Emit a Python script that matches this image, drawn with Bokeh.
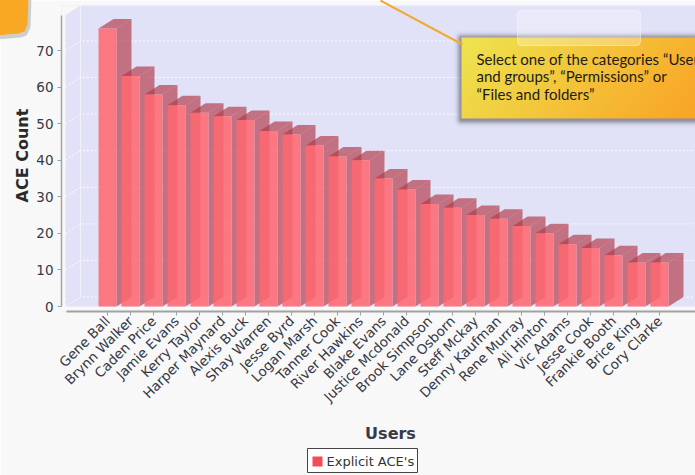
import numpy as np
from math import pi

from bokeh.plotting import figure
from bokeh.models import Range1d, FixedTicker, Label, BoxAnnotation
from bokeh.core.properties import value
from bokeh.embed import file_html
from bokeh.resources import INLINE

# ---------------------------------------------------------------- data
users = ["Gene Ball", "Brynn Walker", "Caden Price", "Jamie Evans", "Kerry Taylor",
         "Harper Maynard", "Alexis Buck", "Shay Warren", "Jesse Byrd", "Logan Marsh",
         "Tanner Cook", "River Hawkins", "Blake Evans", "Justice Mcdonald",
         "Brook Simpson", "Lane Osborn", "Steff Mckay", "Denny Kaufman",
         "Rene Murray", "Ali Hinton", "Vic Adams", "Jesse Cook", "Frankie Booth",
         "Brice King", "Cory Clarke"]
explicit_aces = [76, 63, 58, 55, 53, 52, 51, 48, 47, 44, 41, 40, 35, 32, 28, 27,
                 25, 24, 22, 20, 17, 16, 14, 12, 12]
y_ticks = [0, 10, 20, 30, 40, 50, 60, 70]
series_name = "Explicit ACE's"
x_title = "Users"
y_title = "ACE Count"
hint_lines = ["Select one of the categories \u201cUsers",
              "and groups\u201d, \u201cPermissions\u201d or",
              "\u201cFiles and folders\u201d"]

# ---------------------------------------------------------------- layout
W, H = 695, 475
FRAME_L, FRAME_R, FRAME_T, FRAME_B = 61, 695, 5, 311
X0_PX, X_STEP = 107.0, 23.0          # pixel of first category, pixels per category
Y0_PX, Y_UNIT = 306.0, 3.657         # pixel of value 0, pixels per unit


def px2x(px):
    return (px - X0_PX) / X_STEP


def py2y(py):
    return (Y0_PX - py) / Y_UNIT


BG = "#f8f8f8"
WALL = "#e1e1f7"
TEXT = "#363846"
FONT = "DejaVu Sans"
FRONT_COLOR = "#ff6670"

# 3D depth offsets (data units)
DX = 15.0 / X_STEP
DY = 9.5 / Y_UNIT
HALF = 0.39

p = figure(width=W, height=H, output_backend="svg", toolbar_location=None,
           x_range=Range1d(px2x(FRAME_L), px2x(FRAME_R)),
           y_range=Range1d(py2y(FRAME_B), py2y(FRAME_T)),
           min_border_left=FRAME_L, min_border_right=W - FRAME_R,
           min_border_top=FRAME_T, min_border_bottom=H - FRAME_B)
p.background_fill_color = WALL
p.border_fill_color = BG
p.outline_line_color = None
p.xgrid.visible = False
p.ygrid.visible = False

# ---------------------------------------------------------------- box walls
x_left = px2x(65)
p.add_layout(BoxAnnotation(right=x_left, fill_color=BG, fill_alpha=1,
                           line_color=None, level="underlay"))
p.add_layout(BoxAnnotation(top=0, fill_color=BG, fill_alpha=1,
                           line_color=None, level="underlay"))
y_top = p.y_range.end
p.patch([x_left, x_left + DX, x_left], [y_top, y_top, y_top - DY],
        fill_color=BG, line_color=None)
p.segment(x0=[x_left + DX], y0=[DY], x1=[x_left + DX], y1=[y_top],
          line_color="white", line_alpha=0.55, line_width=1)

# dashed grid on the back wall with the slanted part on the side wall
grid_xs = [[x_left, x_left + DX, p.x_range.end] for _ in y_ticks]
grid_ys = [[v, v + DY, v + DY] for v in y_ticks]
p.multi_line(grid_xs, grid_ys, line_color="white", line_width=1,
             line_dash="2 2", line_alpha=0.95)

# ---------------------------------------------------------------- 3D bars
idx = np.arange(len(users), dtype=float)
vals = np.array(explicit_aces, dtype=float)

side_xs, side_ys = [], []
for i, v in zip(idx, vals):
    r = i + HALF
    l = i - HALF
    side_xs.append([r, r + DX, r + DX, r])
    side_ys.append([0, DY, v + DY, v])
    side_xs.append([l, r, r + DX, l + DX])
    side_ys.append([v, v, v + DY, v + DY])
p.patches(side_xs, side_ys, fill_color="#b23c48", fill_alpha=0.68,
          line_color=None)

p.quad(left=idx - HALF, right=idx + HALF, bottom=0, top=vals,
       fill_color=FRONT_COLOR, fill_alpha=0.86, line_color=None)

# ---------------------------------------------------------------- axes
yax = p.yaxis[0]
yax.ticker = FixedTicker(ticks=y_ticks)
yax.bounds = (0, py2y(15))
yax.axis_line_color = "#a2a2a2"
yax.axis_line_width = 1.5
yax.major_tick_line_color = "#a2a2a2"
yax.major_tick_out = 4
yax.major_tick_in = 0
yax.minor_tick_line_color = None
yax.major_label_text_font = FONT
yax.major_label_text_font_size = "13.5px"
yax.major_label_text_color = TEXT
yax.major_label_standoff = 4

xax = p.xaxis[0]
xax.ticker = FixedTicker(ticks=list(range(len(users))))
xax.major_label_overrides = {i: name for i, name in enumerate(users)}
xax.major_label_orientation = pi / 4
xax.bounds = (px2x(66), p.x_range.end)
xax.axis_line_color = "#a2a2a2"
xax.axis_line_width = 2
xax.major_tick_line_color = "#a2a2a2"
xax.major_tick_out = 4
xax.major_tick_in = 0
xax.minor_tick_line_color = None
xax.major_label_text_font = FONT
xax.major_label_text_font_size = "13.5px"
xax.major_label_text_color = TEXT
xax.major_label_standoff = 3

# axis titles drawn on the overlay level so they can sit in the margins
p.text(x=[px2x(390)], y=[py2y(433)], text=[x_title], text_align="center",
       text_baseline="middle", text_font=value(FONT), text_font_size="16px",
       text_font_style="bold", text_color="#363a48", level="overlay")
p.text(x=[px2x(22)], y=[py2y(155)], text=[y_title], angle=pi / 2,
       text_align="center", text_baseline="middle", text_font=value(FONT),
       text_font_size="16px", text_font_style="bold", text_color="#2a2a2a",
       level="overlay")

# ---------------------------------------------------------------- legend box
p.quad(left=[px2x(307)], right=[px2x(417)], top=[py2y(448)], bottom=[py2y(472)],
       fill_color="white", line_color="#444444", line_width=1, level="overlay")
p.quad(left=[px2x(312)], right=[px2x(322)], top=[py2y(456)], bottom=[py2y(466)],
       fill_color="#f24c56", line_color=None, level="overlay")
p.text(x=[px2x(326)], y=[py2y(461)], text=[series_name], text_align="left",
       text_baseline="middle", text_font=value(FONT), text_font_size="13px",
       text_color="#333333", level="overlay")

# ---------------------------------------------------------------- hint bubble
def to_rgba(r, g, b, a):
    h, w = r.shape
    img = np.empty((h, w), dtype=np.uint32)
    v = img.view(dtype=np.uint8).reshape((h, w, 4))
    v[..., 0] = r
    v[..., 1] = g
    v[..., 2] = b
    v[..., 3] = a
    return img


box_l, box_t, box_r, box_b = 461, 37, 720, 118
bw, bh = box_r - box_l, box_b - box_t

# soft shadow
m = 10
sw, sh = bw + 2 * m, bh + 2 * m
cx = np.arange(sw)[None, :] + 0.5
cy_top = (sh - 1 - np.arange(sh))[:, None] + 0.5
ddx = np.maximum(np.maximum(m - cx, cx - (m + bw)), 0)
ddy = np.maximum(np.maximum(m + 1 - cy_top, cy_top - (m + bh + 1)), 0)
dist = np.sqrt(ddx ** 2 + ddy ** 2)
sh_alpha = (120 * np.exp(-(dist / 4.0) ** 2)).astype(np.uint8)
zeros = np.zeros((sh, sw))
shadow = to_rgba(zeros + 50, zeros + 50, zeros + 60, sh_alpha)
p.image_rgba(image=[shadow], x=px2x(box_l - m), y=py2y(box_b + m),
             dw=sw / X_STEP, dh=sh / Y_UNIT)

# yellow to orange gradient body
gx = np.arange(bw)[None, :] + 0.5
gy_top = (bh - 1 - np.arange(bh))[:, None] + 0.5
t = np.clip(0.8 * gx / 234.0 + 0.25 * gy_top / bh, 0, 1)
c0 = (238, 229, 80)
c1 = (249, 166, 38)
body = to_rgba(c0[0] + (c1[0] - c0[0]) * t, c0[1] + (c1[1] - c0[1]) * t,
               c0[2] + (c1[2] - c0[2]) * t, np.full(t.shape, 255))
p.image_rgba(image=[body], x=px2x(box_l), y=py2y(box_b), dw=bw / X_STEP,
             dh=bh / Y_UNIT)

# pointer line
p.segment(x0=[px2x(380)], y0=[py2y(0)], x1=[px2x(462)], y1=[py2y(44)],
          line_color="#f2aa30", line_width=2, level="overlay")

for k, line in enumerate(hint_lines):
    p.add_layout(Label(x=px2x(476), y=py2y(58 + 17.5 * k), text=line,
                       text_baseline="middle", text_font="Lato",
                       text_font_size="15px", text_color="#1c1c1c"))

# faded panel near the top
p.add_layout(BoxAnnotation(left=px2x(517), right=px2x(640), top=py2y(10),
                           bottom=py2y(45), fill_color="white", fill_alpha=0.28,
                           line_color="white", line_alpha=0.4, border_radius=4,
                           level="overlay"))

# corner of another bubble in the top-left
p.patch([px2x(-5), px2x(31), px2x(30), px2x(26), px2x(20), px2x(-5)],
        [py2y(-5), py2y(-5), py2y(27), py2y(35), py2y(37), py2y(39)],
        fill_color="#505050", fill_alpha=0.25, line_color=None, level="overlay")
p.patch([px2x(-5), px2x(28), px2x(27), px2x(24), px2x(18), px2x(-5)],
        [py2y(-5), py2y(-5), py2y(24), py2y(31), py2y(33), py2y(35)],
        fill_color="#f8a822", line_color=None, level="overlay")

open("out.html", "w").write(file_html(p, INLINE))
